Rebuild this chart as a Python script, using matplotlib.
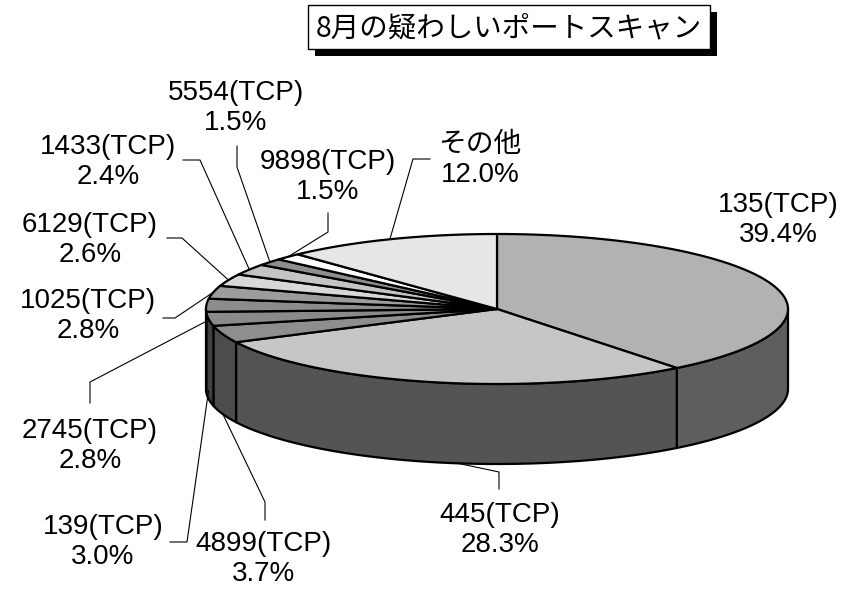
import numpy as np
import matplotlib.pyplot as plt
from matplotlib.patches import Polygon, Rectangle

plt.rcParams['font.family'] = ['Liberation Sans', 'Noto Sans CJK JP', 'DejaVu Sans']

# データ(8月の疑わしいポートスキャン、%)
ports = ['135(TCP)', '445(TCP)', '4899(TCP)', '139(TCP)', '2745(TCP)', '1025(TCP)',
         '6129(TCP)', '1433(TCP)', '5554(TCP)', '9898(TCP)', 'その他']
shares = [39.4, 28.3, 3.7, 3.0, 2.8, 2.8, 2.6, 2.4, 1.5, 1.5, 12.0]

# 塗り(上面と側面)
top_colors = ['#b2b2b2', '#c6c6c6', '#8e8e8e', '#8a8a8a', '#8c8c8c', '#9c9c9c',
              '#d8d8d8', '#c4c4c4', '#8e8e8e', '#ffffff', '#e6e6e6']
side_colors = ['#5e5e5e', '#545454', '#4c4c4c', '#404040', '#505050', '#505050',
               '#707070', '#606060', '#505050', '#909090', '#a0a0a0']

# ラベル位置と引き出し線(ピクセル座標)
label_pos = [(778, 220), (500, 530), (264, 559), (103, 542), (90, 446), (88, 316),
             (90, 240), (108, 162), (236, 108), (328, 177), (480, 160)]
leader_elbows = [None,
                 [(499, 489), (499, 472)],
                 [(265, 520), (265, 502)],
                 [(170, 542), (187, 542)],
                 [(90, 403), (90, 382)],
                 [(163, 318), (175, 318)],
                 [(167, 238), (182, 238)],
                 [(183, 160), (200, 160)],
                 [(237, 146), (237, 167)],
                 [(328, 213), (328, 232)],
                 [(430, 159), (413, 159)]]
leader_frac = [0.5, 0.45, 0.5, 0.5, 0.5, 0.5, 0.5, 0.5, 0.5, 0.5, 0.5]
leader_drop = [0, 1.0, 1.0, 0.9, 0.2, 0, 0, 0, 0, 0, 0]

cx, cy, rx, ry, depth = 497, 309, 291, 75, 80


def pt(theta, dz=0.0):
    t = np.radians(theta)
    return cx + rx * np.cos(t), cy - ry * np.sin(t) + dz


fig = plt.figure(figsize=(8.45, 5.89), dpi=100)
ax = fig.add_axes([0, 0, 1, 1])
ax.set_xlim(0, 845)
ax.set_ylim(589, 0)
ax.axis('off')

cum = np.concatenate([[0], np.cumsum(shares)]) / sum(shares)
starts = 90 - 360 * cum[:-1]
ends = 90 - 360 * cum[1:]

# 側面(手前側のみ)
for i in range(len(shares)):
    hi = min(starts[i], 0)
    lo = max(ends[i], -180)
    if lo >= hi:
        continue
    ts = np.linspace(hi, lo, 80)
    xs, ys = pt(ts)
    verts = list(zip(xs, ys)) + list(zip(xs[::-1], ys[::-1] + depth))
    ax.add_patch(Polygon(verts, closed=True, facecolor=side_colors[i],
                         edgecolor='black', linewidth=1.6, joinstyle='round'))

# 上面
for i in range(len(shares)):
    ts = np.linspace(starts[i], ends[i], 200)
    xs, ys = pt(ts)
    verts = [(cx, cy)] + list(zip(xs, ys))
    ax.add_patch(Polygon(verts, closed=True, facecolor=top_colors[i],
                         edgecolor='black', linewidth=1.6, joinstyle='round'))

# ラベルと引き出し線
for i, name in enumerate(ports):
    lx, ly = label_pos[i]
    ax.text(lx, ly, f'{name}\n{shares[i]:.1f}%', ha='center', va='center',
            fontsize=20, linespacing=1.18, color='black')
    if leader_elbows[i] is None:
        continue
    th = starts[i] + (ends[i] - starts[i]) * leader_frac[i]
    px, py = pt(th, depth * leader_drop[i])
    path = leader_elbows[i] + [(px, py)]
    ax.plot([p[0] for p in path], [p[1] for p in path], color='black', linewidth=0.8)

# タイトル(影付きの枠)
ax.add_patch(Rectangle((315, 12), 402, 44, facecolor='black', edgecolor='none'))
ax.add_patch(Rectangle((308, 5), 402, 44, facecolor='white', edgecolor='black', linewidth=1.0))
ax.text(509, 28, '8月の疑わしいポートスキャン', ha='center', va='center', fontsize=20.5,
        family=['Noto Sans CJK JP', 'DejaVu Sans'])

fig.savefig('out.png', dpi=100)
